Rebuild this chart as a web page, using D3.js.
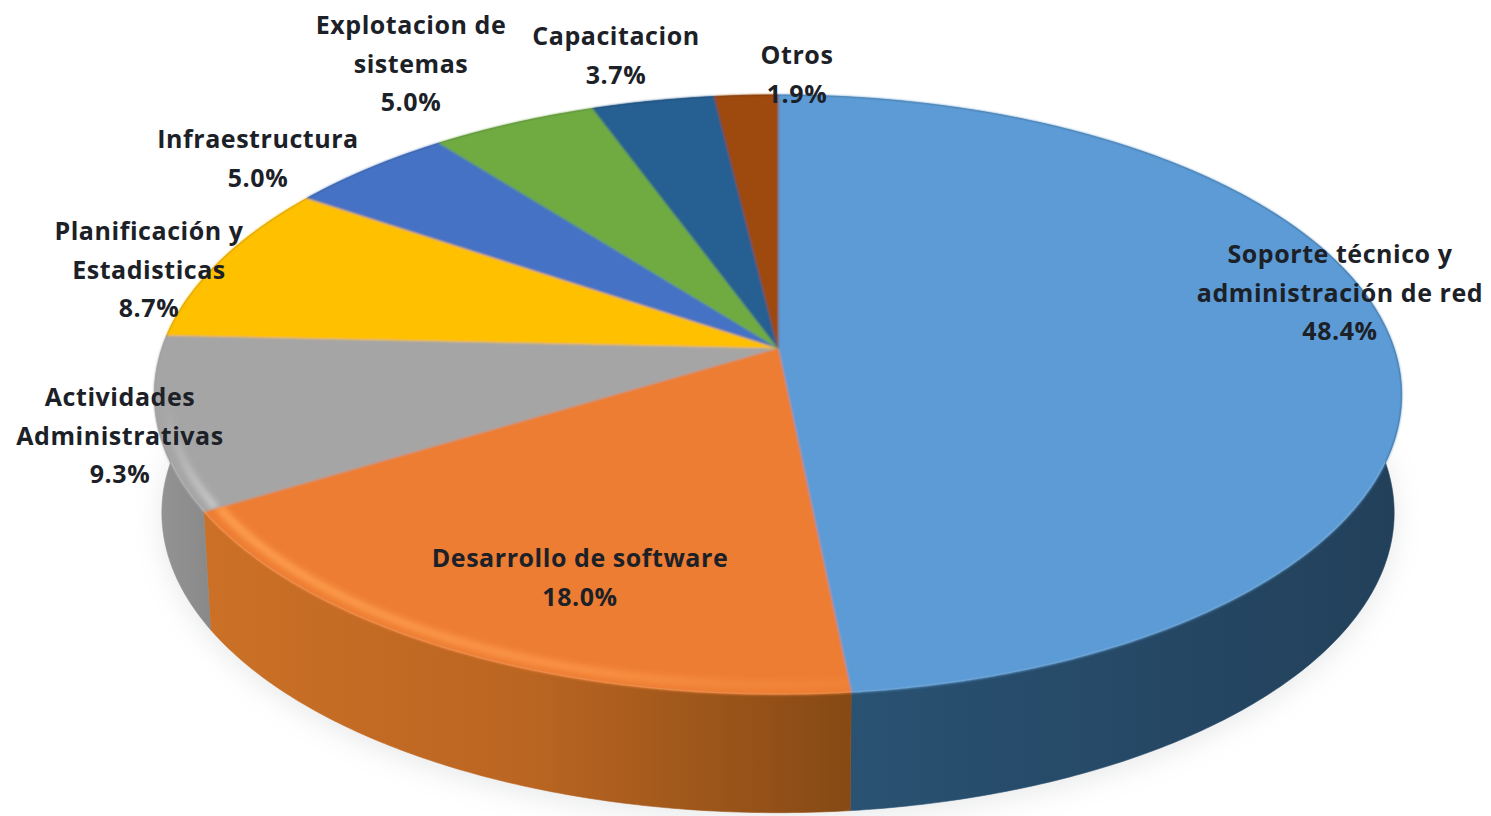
<!DOCTYPE html>
<html>
<head>
<meta charset="utf-8">
<script src="https://cdn.jsdelivr.net/npm/d3@7"></script>
<style>
  html, body { margin: 0; padding: 0; background: #fff; }
  svg { display: block; }
  text { font-family: "Open Sans", Lato, sans-serif; font-weight: 700; font-size: 25px; fill: #1c2128; text-anchor: middle; letter-spacing: 0.55px; }
</style>
</head>
<body>
<svg id="chart" width="1491" height="816"></svg>
<script>
// Distribution of IT staff by area of work, in percent
const areas = ["Soporte técnico y administración de red", "Desarrollo de software",
  "Actividades Administrativas", "Planificación y Estadisticas", "Infraestructura",
  "Explotacion de sistemas", "Capacitacion", "Otros"];
const shares = [48.4, 18.0, 9.3, 8.7, 5.0, 5.0, 3.7, 1.9];
const topColors = ["#5b9bd5", "#ed7d31", "#a5a5a5", "#ffc000", "#4472c4", "#6fab42", "#255e91", "#9e480e"];
const wallColors = [
  ["#2a5272", "#264a68", "#22405a"],
  ["#cb7026", "#ba6522", "#874a14"],
  ["#939393", "#8c8c8c", "#858585"],
  ["#99730a", "#99730a", "#99730a"],
  ["#294476", "#294476", "#294476"],
  ["#436728", "#436728", "#436728"],
  ["#163857", "#163857", "#163857"],
  ["#5f2b08", "#5f2b08", "#5f2b08"]
];
const labelLines = [
  ["Soporte técnico y", "administración de red", "48.4%"],
  ["Desarrollo de software", "18.0%"],
  ["Actividades", "Administrativas", "9.3%"],
  ["Planificación y", "Estadisticas", "8.7%"],
  ["Infraestructura", "5.0%"],
  ["Explotacion de", "sistemas", "5.0%"],
  ["Capacitacion", "3.7%"],
  ["Otros", "1.9%"]
];
// Centre x of each label and the baseline of its first line
const labelAnchors = [[1340, 263], [580, 567], [120, 406], [149, 240], [258, 148], [411, 34], [616, 45], [797, 64]];

const width = 1491, height = 816;
const lineGap = 38.5;

// Disc geometry: tilt foreshortening plus a perspective term for the far edge
const perspective = 0.156;
const wallDrop = 118;
const wallShrink = 0.988;
const scaleX = d3.scaleLinear().domain([-1, 1]).range([778 - 616, 778 + 616]);
const scaleY = d3.scaleLinear().domain([-1, 1]).range([348 - 292.6, 348 + 292.6]);

function project(angle, radius = 1, shrink = 1, drop = 0) {
  const u = radius * Math.sin(angle), v = -radius * Math.cos(angle);
  const w = 1 - perspective * v;
  return [scaleX(shrink * u / w), scaleY(v / w) + drop];
}

function arcSamples(a0, a1, radius = 1, shrink = 1, drop = 0) {
  const n = Math.max(2, Math.ceil((a1 - a0) * 90));
  return d3.range(n + 1).map(i => project(a0 + (a1 - a0) * i / n, radius, shrink, drop));
}

const pie = d3.pie().sort(null).value(d => d)(shares);
const outline = d3.line();
const svg = d3.select("#chart");
const defs = svg.append("defs");

const soft = defs.append("filter").attr("id", "soft").attr("x", "-20%").attr("y", "-20%").attr("width", "140%").attr("height", "140%");
soft.append("feGaussianBlur").attr("stdDeviation", 3);
const halo = defs.append("filter").attr("id", "halo").attr("x", "-10%").attr("y", "-10%").attr("width", "120%").attr("height", "120%");
halo.append("feGaussianBlur").attr("stdDeviation", 14);
const edge = defs.append("filter").attr("id", "edge").attr("x", "-5%").attr("y", "-5%").attr("width", "110%").attr("height", "110%");
edge.append("feGaussianBlur").attr("stdDeviation", 1.1);

// Horizontal shading of each slice's wall
pie.forEach((d, i) => {
  const g = defs.append("linearGradient").attr("id", "wall" + i)
    .attr("gradientUnits", "userSpaceOnUse").attr("x1", 160).attr("x2", 1400).attr("y1", 0).attr("y2", 0);
  const stops = i === 0 ? [[0.55, 0], [0.75, 1], [1, 2]]
    : i === 1 ? [[0.04, 0], [0.3, 1], [0.55, 2]]
    : [[0, 0], [0.03, 1], [0.05, 2]];
  stops.forEach(([o, c]) => g.append("stop").attr("offset", o).attr("stop-color", wallColors[i][c]));
});

// Rim highlight that fades out towards the front of the disc
const glow = defs.append("linearGradient").attr("id", "rimOrange")
  .attr("gradientUnits", "userSpaceOnUse").attr("x1", 210).attr("x2", 850).attr("y1", 0).attr("y2", 0);
[[0, "#ffa050", 1], [0.6, "#ff9a4c", 0.75], [1, "#f79046", 0.3]].forEach(([o, c, a]) =>
  glow.append("stop").attr("offset", o).attr("stop-color", c).attr("stop-opacity", a));
const glowGrey = defs.append("linearGradient").attr("id", "rimGrey")
  .attr("gradientUnits", "userSpaceOnUse").attr("x1", 0).attr("x2", 0).attr("y1", 400).attr("y2", 510);
[[0, "#cfcfcf", 0], [1, "#d8d8d8", 0.9]].forEach(([o, c, a]) =>
  glowGrey.append("stop").attr("offset", o).attr("stop-color", c).attr("stop-opacity", a));

// Faint cast shadow under the disc
svg.append("path")
  .attr("d", outline(arcSamples(0, 2 * Math.PI, 1, wallShrink, wallDrop)) + "Z")
  .attr("fill", "#8a8f96").attr("opacity", 0.2).attr("filter", "url(#halo)")
  .attr("transform", "translate(0,6)");

// Walls first, so the top face covers everything behind it
const walls = svg.append("g");
pie.forEach((d, i) => {
  const upper = arcSamples(d.startAngle, d.endAngle);
  const lower = arcSamples(d.startAngle, d.endAngle, 1, wallShrink, wallDrop).reverse();
  walls.append("path").attr("d", outline(upper.concat(lower)) + "Z")
    .attr("fill", `url(#wall${i})`).attr("stroke", `url(#wall${i})`).attr("stroke-width", 0.6);
});

// Top face; slices are softened together so no seams open between them
const centre = [scaleX(0), scaleY(0)];
const faces = svg.append("g").attr("filter", "url(#edge)");
pie.forEach((d, i) => {
  const pts = [centre].concat(arcSamples(d.startAngle, d.endAngle));
  defs.append("clipPath").attr("id", "clip" + i).append("path").attr("d", outline(pts) + "Z");
  faces.append("path").attr("d", outline(pts) + "Z")
    .attr("fill", topColors[i]).attr("stroke", topColors[i]).attr("stroke-width", 0.8);
});

// Bevel highlight on the orange and grey rims
[[1, "rimOrange", 0.976, 8], [2, "rimGrey", 0.98, 6]].forEach(([i, paint, r, w]) => {
  const d = pie[i];
  svg.append("g").attr("clip-path", `url(#clip${i})`).append("path")
    .attr("d", outline(arcSamples(d.startAngle, d.endAngle, r)))
    .attr("fill", "none").attr("stroke", `url(#${paint})`).attr("stroke-width", w)
    .attr("filter", "url(#soft)");
});

// Labels
const labels = svg.append("g");
labelLines.forEach((lines, i) => {
  const [x, y] = labelAnchors[i];
  const t = labels.append("text").attr("aria-label", areas[i]);
  lines.forEach((s, k) => t.append("tspan").attr("x", x).attr("y", y + k * lineGap).text(s));
});
</script>
</body>
</html>
